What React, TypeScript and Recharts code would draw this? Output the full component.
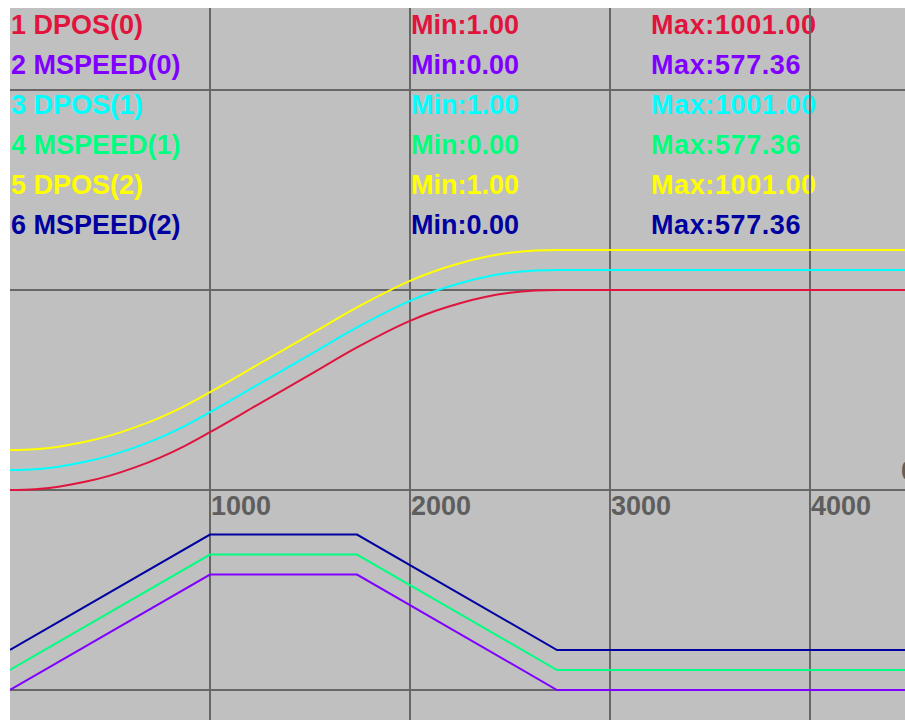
import { LineChart, Line, XAxis, YAxis, CartesianGrid } from "recharts";

// sample times (ms) for the position traces
const DPOS_TIME = [0, 125, 250, 375, 500, 625, 750, 875, 1000, 1250, 1500, 1735, 2000, 2125, 2250, 2375, 2500, 2625, 2735, 4475];
const DPOS_0 = [1, 5, 19, 42, 73, 114, 163, 222, 290, 434, 578, 714, 847, 896, 935, 966, 987, 998, 1001, 1001];
const DPOS_1 = [1, 5, 19, 42, 73, 114, 163, 222, 290, 434, 578, 714, 847, 896, 935, 966, 987, 998, 1001, 1001];
const DPOS_2 = [1, 5, 19, 42, 73, 114, 163, 222, 290, 434, 578, 714, 847, 896, 935, 966, 987, 998, 1001, 1001];

// speed trapezoid corners
const MSPEED_TIME = [0, 1000, 1735, 2735, 4475];
const MSPEED_0 = [0, 577.36, 577.36, 0, 0];
const MSPEED_1 = [0, 577.36, 577.36, 0, 0];
const MSPEED_2 = [0, 577.36, 577.36, 0, 0];

const X_TICKS = [1000, 2000, 3000, 4000];
const GRID_TICKS = [0, 1000, 2000, 3000];

const W = 895;
const H = 712;
const FONT = "'Liberation Sans', Arial, sans-serif";
const GRID_COLOR = "#666666";
const AXIS_TEXT = "#5e5e5e";

const toPoints = (t: number[], v: number[]) => t.map((time, i) => ({ t: time, v: v[i] }));

// each channel sits on its own hidden scale (5 units per pixel), shifted by 20px
const CHANNELS = [
  { name: "DPOS(0)", color: "#e0143c", time: DPOS_TIME, values: DPOS_0, domain: [-1149, 2411], curve: "monotone" },
  { name: "MSPEED(0)", color: "#8000ff", time: MSPEED_TIME, values: MSPEED_0, domain: [-150, 3410], curve: "linear" },
  { name: "DPOS(1)", color: "#00ffff", time: DPOS_TIME, values: DPOS_1, domain: [-1249, 2311], curve: "monotone" },
  { name: "MSPEED(1)", color: "#00ff80", time: MSPEED_TIME, values: MSPEED_1, domain: [-250, 3310], curve: "linear" },
  { name: "DPOS(2)", color: "#ffff00", time: DPOS_TIME, values: DPOS_2, domain: [-1349, 2211], curve: "monotone" },
  { name: "MSPEED(2)", color: "#0000a0", time: MSPEED_TIME, values: MSPEED_2, domain: [-350, 3210], curve: "linear" },
];

function XTick({ x, payload }: { x?: number; payload?: { value: number } }) {
  return (
    <text x={(x ?? 0) + 1} y={507} fill={AXIS_TEXT} fontSize={27} fontWeight="bold" fontFamily={FONT}>
      {payload?.value}
    </text>
  );
}

export default function App() {
  const textStyle = { fontFamily: FONT, fontSize: 27, fontWeight: "bold" as const, lineHeight: "40px", whiteSpace: "nowrap" as const };
  return (
    <div style={{ position: "fixed", left: 0, top: 0, width: 905, height: 720, background: "#fff", overflow: "hidden" }}>
      <div style={{ position: "absolute", left: 10, top: 8, width: W, height: H, background: "#c0c0c0", overflow: "hidden" }}>
        <div style={{ position: "absolute", left: 1, top: -3 }}>
          {CHANNELS.map((c, i) => (
            <div key={c.name} style={{ ...textStyle, color: c.color, position: "relative", height: 40 }}>
              <span style={{ position: "absolute", left: 0 }}>{`${i + 1} ${c.name}`}</span>
              <span style={{ position: "absolute", left: 400 }}>{`Min:${Math.min(...c.values).toFixed(2)}`}</span>
              <span style={{ position: "absolute", left: 640, letterSpacing: 0.6 }}>{`Max:${Math.max(...c.values).toFixed(2)}`}</span>
            </div>
          ))}
        </div>
        <div style={{ ...textStyle, color: AXIS_TEXT, position: "absolute", left: 891, top: 443 }}>0</div>
        <div style={{ position: "absolute", left: 0, top: 0 }}>
          <LineChart width={W} height={H} margin={{ top: 0, right: 0, bottom: 0, left: 0 }}>
            <XAxis
              type="number"
              dataKey="t"
              domain={[0, 4475]}
              ticks={X_TICKS}
              allowDataOverflow
              mirror
              axisLine={false}
              tickLine={false}
              interval={0}
              tick={<XTick />}
            />
            <YAxis yAxisId="grid" type="number" hide domain={[-150, 3410]} ticks={GRID_TICKS} allowDataOverflow />
            {CHANNELS.map((c, i) => (
              <YAxis key={c.name} yAxisId={`ch${i}`} type="number" hide domain={c.domain} allowDataOverflow />
            ))}
            <CartesianGrid yAxisId="grid" syncWithTicks stroke={GRID_COLOR} strokeWidth={2} />
            {CHANNELS.map((c, i) => (
              <Line
                key={c.name}
                yAxisId={`ch${i}`}
                data={toPoints(c.time, c.values)}
                dataKey="v"
                type={c.curve as "monotone" | "linear"}
                stroke={c.color}
                strokeWidth={2}
                dot={false}
                isAnimationActive={false}
              />
            ))}
          </LineChart>
        </div>
      </div>
    </div>
  );
}
